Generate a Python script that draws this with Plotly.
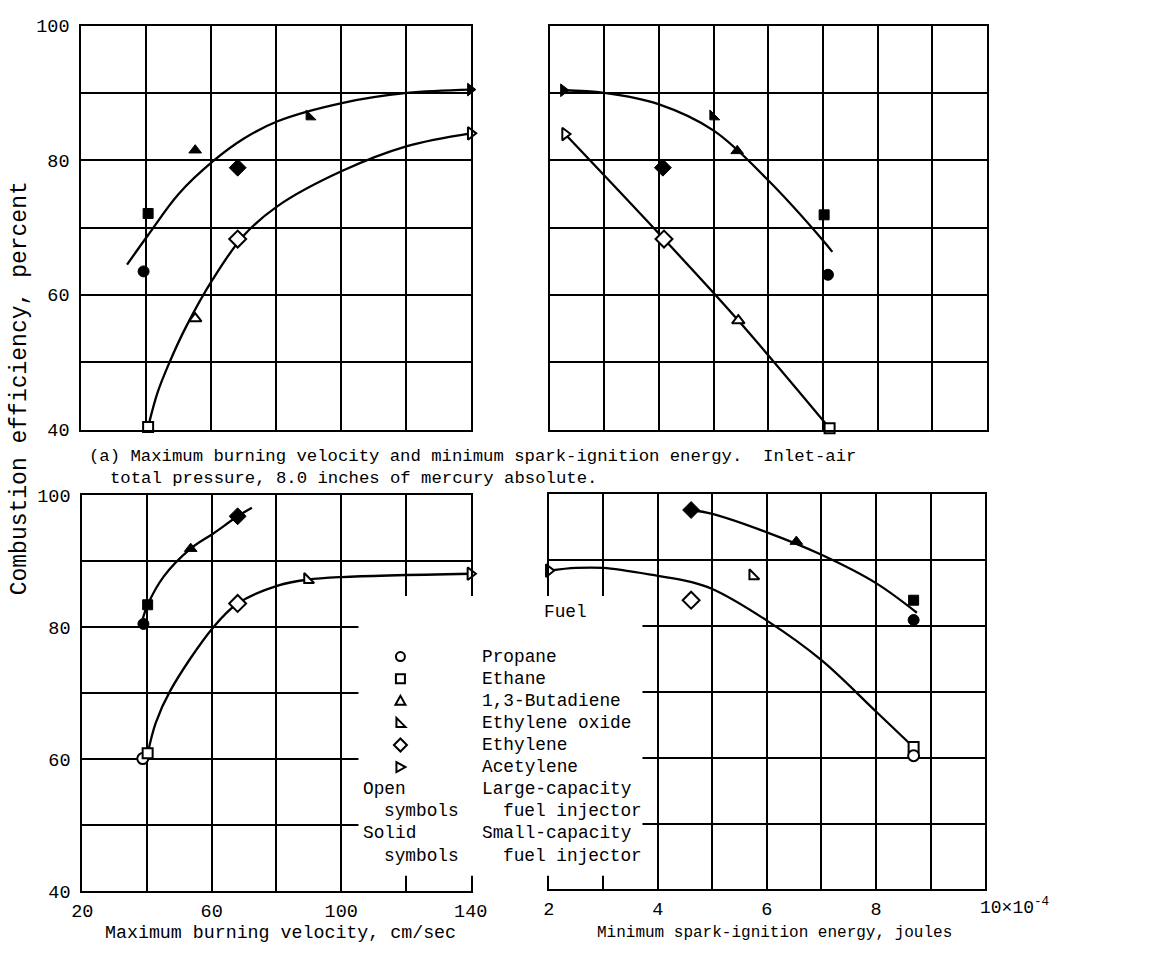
import plotly.graph_objects as go

W, H = 1167, 963
FONT = "Liberation Mono"

# Fuels and the marker used for each one
FUELS = ["Propane", "Ethane", "1,3-Butadiene", "Ethylene oxide", "Ethylene", "Acetylene"]
FUEL_SYMBOLS = ["circle", "square", "triangle-up", "triangle-sw", "diamond", "triangle-right"]
FUEL_SIZES = [11, 10, 11, 11, 13, 11]

# ---- Upper left: efficiency vs maximum burning velocity (cm/sec)
vel_top_open_fuel = ["Ethane", "1,3-Butadiene", "Ethylene", "Acetylene"]
vel_top_open_x = [40.6, 55.1, 68.2, 140.0]
vel_top_open_y = [40.4, 56.5, 68.3, 84.0]
vel_top_solid_fuel = ["Propane", "Ethane", "1,3-Butadiene", "Ethylene oxide", "Ethylene", "Acetylene"]
vel_top_solid_x = [39.2, 40.6, 55.1, 90.3, 68.2, 139.9]
vel_top_solid_y = [63.5, 72.1, 81.5, 86.5, 78.9, 90.5]
vel_top_open_curve_x = [40.6, 43.5, 47.2, 52.0, 60.5, 70.0, 80.5, 100.3, 120.4, 140.0]
vel_top_open_curve_y = [40.4, 45.5, 50.0, 55.0, 62.3, 68.8, 73.2, 78.4, 82.1, 84.0]
vel_top_solid_curve_x = [34.1, 40.6, 50.0, 60.7, 70.0, 80.5, 100.3, 120.4, 140.0]
vel_top_solid_curve_y = [64.5, 68.9, 75.0, 79.9, 83.2, 85.8, 88.5, 90.0, 90.5]

# ---- Upper right: efficiency vs minimum spark-ignition energy (10^-4 joules)
spark_top_open_fuel = ["Acetylene", "Ethylene", "1,3-Butadiene", "Ethane"]
spark_top_open_x = [2.28, 4.09, 5.45, 7.12]
spark_top_open_y = [83.9, 68.3, 56.2, 40.2]
spark_top_solid_fuel = ["Acetylene", "Ethylene", "Ethylene oxide", "1,3-Butadiene", "Ethane", "Propane"]
spark_top_solid_x = [2.25, 4.07, 4.99, 5.43, 7.02, 7.09]
spark_top_solid_y = [90.4, 78.9, 86.5, 81.4, 71.9, 63.0]
spark_top_open_curve_x = [2.28, 4.09, 5.45, 7.12]
spark_top_open_curve_y = [83.9, 68.3, 56.2, 40.2]
spark_top_solid_curve_x = [2.25, 3.0, 4.0, 5.0, 6.0, 7.0, 7.17]
spark_top_solid_curve_y = [90.4, 90.0, 88.3, 84.4, 77.0, 68.1, 66.4]

# ---- Lower left: efficiency vs maximum burning velocity
vel_bot_open_fuel = ["Propane", "Ethane", "Ethylene", "Ethylene oxide", "Acetylene"]
vel_bot_open_x = [38.7, 40.2, 68.0, 89.6, 139.9]
vel_bot_open_y = [60.1, 60.9, 83.6, 87.2, 88.1]
vel_bot_solid_fuel = ["Propane", "Ethane", "1,3-Butadiene", "Ethylene"]
vel_bot_solid_x = [38.9, 40.2, 53.5, 68.0]
vel_bot_solid_y = [80.5, 83.4, 91.9, 96.8]
vel_bot_open_curve_x = [40.2, 42.7, 47.2, 60.5, 68.0, 80.4, 89.6, 100.2, 140.0]
vel_bot_open_curve_y = [60.8, 65.5, 70.4, 80.0, 83.6, 86.3, 87.2, 87.6, 88.1]
vel_bot_solid_curve_x = [38.7, 40.2, 45.2, 53.5, 60.5, 68.0, 72.4]
vel_bot_solid_curve_y = [81.3, 83.4, 87.7, 91.9, 94.2, 96.8, 98.1]

# ---- Lower right: efficiency vs minimum spark-ignition energy
spark_bot_open_fuel = ["Acetylene", "Ethylene", "Ethylene oxide", "Ethane", "Propane"]
spark_bot_open_x = [2.0, 4.61, 5.74, 8.69, 8.69]
spark_bot_open_y = [88.4, 83.9, 87.6, 61.6, 60.3]
spark_bot_solid_fuel = ["Ethylene", "1,3-Butadiene", "Ethane", "Propane"]
spark_bot_solid_x = [4.61, 6.54, 8.69, 8.69]
spark_bot_solid_y = [97.6, 92.8, 83.9, 80.9]
spark_bot_open_curve_x = [2.0, 2.5, 3.0, 4.0, 4.6, 5.0, 6.0, 7.0, 8.0, 8.66]
spark_bot_open_curve_y = [88.4, 88.8, 88.8, 87.6, 86.7, 85.6, 80.8, 74.8, 67.0, 61.8]
spark_bot_solid_curve_x = [4.61, 5.0, 6.0, 7.0, 8.0, 8.75]
spark_bot_solid_curve_y = [97.6, 97.0, 94.2, 90.8, 86.5, 82.0]

# Axis ticks
eff_ticks = [40, 50, 60, 70, 80, 90, 100]
eff_labels = ["40", " ", "60", " ", "80", " ", "100"]
vel_ticks = [20, 40, 60, 80, 100, 120, 140]
vel_labels = ["20", " ", "60", " ", "100", " ", "140"]
spark_ticks = [2, 3, 4, 5, 6, 7, 8, 9, 10]
spark_labels = ["2", " ", "4", " ", "6", " ", "8", " ", " "]

# Legend text
legend_names = FUELS
legend_notes = [("Open", "symbols", "Large-capacity", "fuel injector"),
                ("Solid", "symbols", "Small-capacity", "fuel injector")]


def px_x(v):
    return v / W


def px_y(v):
    return 1 - v / H


def sym(fuels):
    return [FUEL_SYMBOLS[FUELS.index(f)] for f in fuels]


def size(fuels):
    return [FUEL_SIZES[FUELS.index(f)] for f in fuels]


fig = go.Figure()

panels = [
    ("x", "y", vel_top_open_curve_x, vel_top_open_curve_y, vel_top_solid_curve_x, vel_top_solid_curve_y,
     vel_top_open_fuel, vel_top_open_x, vel_top_open_y, vel_top_solid_fuel, vel_top_solid_x, vel_top_solid_y),
    ("x2", "y2", spark_top_open_curve_x, spark_top_open_curve_y, spark_top_solid_curve_x, spark_top_solid_curve_y,
     spark_top_open_fuel, spark_top_open_x, spark_top_open_y, spark_top_solid_fuel, spark_top_solid_x, spark_top_solid_y),
    ("x3", "y3", vel_bot_open_curve_x, vel_bot_open_curve_y, vel_bot_solid_curve_x, vel_bot_solid_curve_y,
     vel_bot_open_fuel, vel_bot_open_x, vel_bot_open_y, vel_bot_solid_fuel, vel_bot_solid_x, vel_bot_solid_y),
    ("x4", "y4", spark_bot_open_curve_x, spark_bot_open_curve_y, spark_bot_solid_curve_x, spark_bot_solid_curve_y,
     spark_bot_open_fuel, spark_bot_open_x, spark_bot_open_y, spark_bot_solid_fuel, spark_bot_solid_x, spark_bot_solid_y),
]

for (xa, ya, ocx, ocy, scx, scy, of, ox, oy, sf, sx, sy) in panels:
    for cx, cy in ((ocx, ocy), (scx, scy)):
        fig.add_trace(go.Scatter(x=cx, y=cy, mode="lines", xaxis=xa, yaxis=ya,
                                 line=dict(color="black", width=2.3, shape="spline", smoothing=1.0),
                                 cliponaxis=False, showlegend=False, hoverinfo="skip"))
    fig.add_trace(go.Scatter(x=sx, y=sy, mode="markers", xaxis=xa, yaxis=ya, cliponaxis=False,
                             marker=dict(symbol=sym(sf), size=size(sf), color="black", opacity=1,
                                         line=dict(color="black", width=1)),
                             showlegend=False, text=sf))
    fig.add_trace(go.Scatter(x=ox, y=oy, mode="markers", xaxis=xa, yaxis=ya, cliponaxis=False,
                             marker=dict(symbol=sym(of), size=size(of), color="white", opacity=1,
                                         line=dict(color="black", width=2)),
                             showlegend=False, text=of))

axis_style = dict(showgrid=True, gridcolor="black", gridwidth=1.7, showline=True, linecolor="black",
                  linewidth=2, mirror=True, ticks="", zeroline=False, fixedrange=True,
                  tickfont=dict(family=FONT, size=18.5, color="black"), tickmode="array")
x_style = dict(axis_style, ticklabelstandoff=1)
y_style = dict(axis_style, ticklabelstandoff=6)

fig.update_layout(
    width=W, height=H, margin=dict(l=0, r=0, t=0, b=0), autosize=False,
    paper_bgcolor="white", plot_bgcolor="white", showlegend=False,
    xaxis=dict(x_style, domain=[px_x(72), px_x(471)], range=[20, 140], anchor="y",
               tickvals=vel_ticks, showticklabels=False),
    yaxis=dict(y_style, domain=[px_y(430), px_y(17)], range=[40, 100], anchor="x",
               tickvals=eff_ticks, ticktext=eff_labels),
    xaxis2=dict(x_style, domain=[px_x(552), px_x(1000)], range=[2, 10], anchor="y2",
                tickvals=spark_ticks, showticklabels=False),
    yaxis2=dict(y_style, domain=[px_y(430), px_y(17)], range=[40, 100], anchor="x2",
                tickvals=eff_ticks, showticklabels=False),
    xaxis3=dict(x_style, domain=[px_x(73), px_x(471)], range=[20, 140], anchor="y3",
                tickvals=vel_ticks, ticktext=vel_labels),
    yaxis3=dict(y_style, domain=[px_y(902), px_y(497)], range=[40, 100], anchor="x3",
                tickvals=eff_ticks, ticktext=eff_labels),
    xaxis4=dict(x_style, domain=[px_x(551), px_x(998)], range=[2, 10], anchor="y4",
                tickvals=spark_ticks, ticktext=spark_labels),
    yaxis4=dict(y_style, domain=[px_y(900), px_y(496)], range=[40, 100], anchor="x4",
                tickvals=eff_ticks, showticklabels=False),
)

shapes = []
# blank area that holds the key between the two lower panels
shapes.append(dict(type="rect", xref="paper", yref="paper", layer="above",
                   x0=px_x(356), x1=px_x(647), y0=px_y(886), y1=px_y(600),
                   fillcolor="white", line=dict(width=0)))

# key symbols, drawn in pixels around each anchor (y upward)
key_x = 399
row0, row_step = 662, 22.6
key_paths = {
    "square": "M -4.5,-4.5 L 4.5,-4.5 L 4.5,4.5 L -4.5,4.5 Z",
    "triangle-up": "M -5,-4 L 5,-4 L 0,5 Z",
    "triangle-sw": "M -4,-4 L 5,-4 L -4,5 Z",
    "diamond": "M 0,6.5 L 6.5,0 L 0,-6.5 L -6.5,0 Z",
    "triangle-right": "M -4,5 L 5,0 L -4,-5 Z",
}
for i, s in enumerate(FUEL_SYMBOLS):
    cy = row0 + i * row_step
    base = dict(xref="paper", yref="paper", layer="above", xsizemode="pixel", ysizemode="pixel",
                xanchor=px_x(key_x), yanchor=px_y(cy), fillcolor="white",
                line=dict(color="black", width=2))
    if s == "circle":
        shapes.append(dict(base, type="circle", x0=-4.5, x1=4.5, y0=-4.5, y1=4.5))
    else:
        shapes.append(dict(base, type="path", path=key_paths[s]))
fig.update_layout(shapes=shapes)

ann = []
text_font = dict(family=FONT, size=17.8, color="black")


def label(x, y, text, font=text_font, **kw):
    d = dict(xref="paper", yref="paper", x=px_x(x), y=px_y(y), text=text, showarrow=False,
             xanchor="left", yanchor="middle", font=font, borderpad=0)
    d.update(kw)
    ann.append(d)


# caption of part (a)
cap_font = dict(family=FONT, size=17.3, color="black")
label(79, 457, "(a) Maximum burning velocity and minimum spark-ignition energy.\u00a0\u00a0Inlet-air", cap_font)
label(100, 480, "total pressure, 8.0 inches of mercury absolute.", cap_font)

# axis titles
label(276, 945, "Maximum burning velocity, cm/sec", dict(family=FONT, size=18.3, color="black"),
      xanchor="center")
label(782, 945, "Minimum spark-ignition energy, joules", dict(family=FONT, size=16, color="black"),
      xanchor="center")
label(9, 388, "Combustion efficiency, percent", dict(family=FONT, size=23, color="black"),
      xanchor="center", textangle=-90)
ann.append(dict(xref="x4", yref="paper", x=10, y=px_y(918), text="10\u00d710<sup>-4</sup>",
                showarrow=False, xanchor="left", yanchor="middle", xshift=-6, borderpad=0,
                font=dict(family=FONT, size=18, color="black")))

# key text
label(545, 616, "Fuel")
for i, name in enumerate(legend_names):
    label(482, row0 + i * row_step, name)
for j, (a, b, c, d) in enumerate(legend_notes):
    y1 = row0 + (6 + 2 * j) * row_step
    y2 = y1 + row_step
    label(360, y1, a)
    label(381, y2, b)
    label(482, y1, c)
    label(503, y2, d)

fig.update_layout(annotations=ann)
fig.write_html("out.html")
